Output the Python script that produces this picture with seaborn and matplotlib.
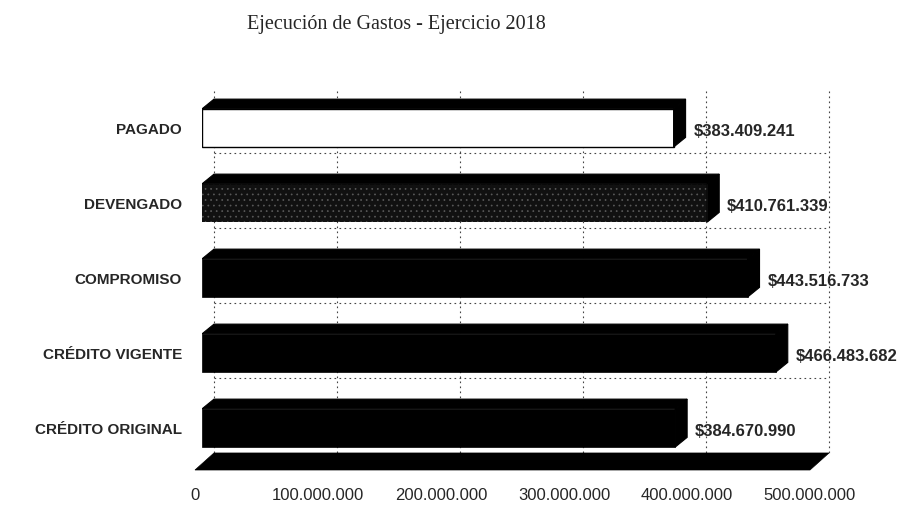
import pandas as pd
import seaborn as sns
import matplotlib.pyplot as plt
from matplotlib.patches import Polygon
from matplotlib.transforms import ScaledTranslation

# datos del grafico
categorias = ['PAGADO', 'DEVENGADO', 'COMPROMISO', 'CRÉDITO VIGENTE', 'CRÉDITO ORIGINAL']
montos = [383409241, 410761339, 443516733, 466483682, 384670990]
ticks_x = [0, 100000000, 200000000, 300000000, 400000000, 500000000]
colores = ['#ffffff', '#111111', '#000000', '#000000', '#000000']


def pesos(v):
    return '{:,}'.format(int(v)).replace(',', '.')


df = pd.DataFrame({'categoria': categorias, 'monto': montos})

sns.set_style('white')
plt.rcParams['font.family'] = ['Liberation Sans', 'DejaVu Sans']
plt.rcParams['hatch.linewidth'] = 0.5

fig = plt.figure(figsize=(9.05, 5.11), dpi=100)
ax = fig.add_axes([202 / 905, 1 - 470 / 511, 615 / 905, 383.25 / 511])

alto = 0.51
sns.barplot(data=df, x='monto', y='categoria', hue='categoria', palette=colores,
            saturation=1, width=alto, orient='h', legend=False, ax=ax, zorder=3)

# bordes y textura de la barra gris
for cont, nombre in zip(ax.containers, categorias):
    for p in cont:
        p.set_edgecolor('black')
        p.set_linewidth(1 if nombre == 'PAGADO' else 0.5)
        if nombre == 'DEVENGADO':
            p.set_hatch('...')
            p.set_edgecolor('#5a5a5a')
            p.set_linewidth(0)

ax.set_xlim(ticks_x[0], ticks_x[-1])
ax.set_ylim(4.56, -0.55)

# efecto 3D: profundidad en x (datos) y en y (categorias)
DX = 9.75e6
DY = 0.13
FX = -5.7e6

for i, v in enumerate(montos):
    arriba = i - alto / 2
    abajo = i + alto / 2
    ax.add_patch(Polygon([(0, arriba), (DX, arriba - DY), (v + DX, arriba - DY), (v, arriba)],
                         closed=True, fc='black', ec='black', lw=0.8, zorder=4))
    ax.add_patch(Polygon([(v, arriba), (v + DX, arriba - DY), (v + DX, abajo - DY), (v, abajo)],
                         closed=True, fc='black', ec='black', lw=0.8, zorder=4))
    ax.annotate('$' + pesos(v), xy=(v + DX, i), xytext=(8, -3), textcoords='offset pixels',
                ha='left', va='center', fontsize=12, fontweight='bold',
                annotation_clip=False)

# piso
piso_sup = 4.333
piso_inf = 4.56
ax.add_patch(Polygon([(ticks_x[0] + FX, piso_inf), (ticks_x[0] + DX, piso_sup),
                      (ticks_x[-1] + DX, piso_sup), (ticks_x[-1] + FX, piso_inf)],
                     closed=True, fc='black', ec='black', lw=0.5, clip_on=False, zorder=3))

# grilla de la pared del fondo
for t in ticks_x:
    ax.vlines(t + DX, -0.5, piso_sup, colors='#444444', linestyles=(0, (1.5, 3)),
              linewidth=0.8, zorder=1, clip_on=False)
for i in range(len(categorias) - 1):
    ax.hlines(i + 0.33, ticks_x[0] + DX, ticks_x[-1] + DX, colors='#444444',
              linestyles=(0, (1.5, 3)), linewidth=0.8, zorder=1, clip_on=False)

sns.despine(ax=ax, left=True, bottom=True)
ax.set_xlabel('')
ax.set_ylabel('')
ax.tick_params(axis='y', length=0, pad=14.5)
for lbl in ax.get_yticklabels():
    lbl.set_fontsize(11)
    lbl.set_fontweight('bold')

# eje de valores sobre el borde frontal del piso
ax.set_xticks(ticks_x)
ax.set_xticklabels([pesos(t) for t in ticks_x])
ax.tick_params(axis='x', length=0, pad=13, labelsize=12)
desplazo = ScaledTranslation(-7 / 100, 0, fig.dpi_scale_trans)
for lbl in ax.get_xticklabels():
    lbl.set_transform(lbl.get_transform() + desplazo)

fig.text(396 / 905, 1 - 29 / 511, 'Ejecución de Gastos - Ejercicio 2018',
         ha='center', va='baseline', fontsize=14.5, family='Liberation Serif')

fig.savefig('out.png', dpi=100, facecolor='white')
